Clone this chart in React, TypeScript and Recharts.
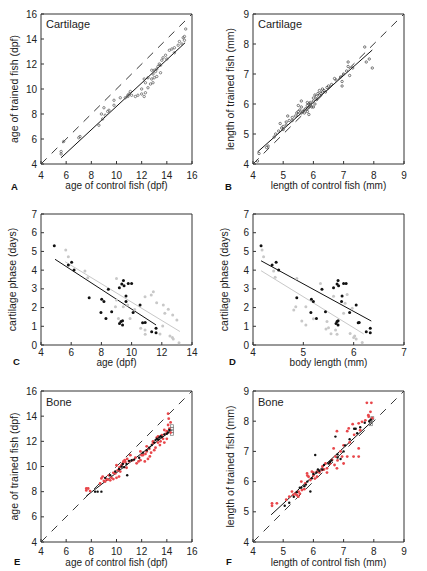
import React from "react";
import { ScatterChart, Scatter, XAxis, YAxis, ReferenceLine } from "recharts";

type Pt = [number, number];

const FONT = '"Liberation Sans", Arial, Helvetica, sans-serif';

// tick labels
const ageTicks = [4, 6, 8, 10, 12, 14, 16];
const lenTicks = [4, 5, 6, 7, 8, 9];
const phaseTicks = [0, 1, 2, 3, 4, 5, 6, 7];
const phaseAgeTicks = [4, 6, 8, 10, 12, 14];
const bodyTicks = [4, 5, 6, 7];

// A: cartilage, age of control vs trained
const aPoints: Pt[] = [
  [5.6, 4.8], [5.6, 5.0], [5.8, 5.8], [7.0, 6.1], [7.1, 6.2], [8.6, 7.1], [8.8, 8.0], [8.9, 7.6],
  [9.0, 8.5], [9.1, 7.9], [9.3, 8.2], [9.4, 8.3], [9.8, 9.1], [9.8, 8.7], [10.3, 9.3], [10.7, 9.3],
  [10.9, 9.4], [10.9, 9.5], [11.0, 9.6], [11.1, 9.8], [11.2, 9.5], [11.5, 9.4], [11.7, 9.5], [12.0, 9.6],
  [12.2, 9.4], [12.0, 10.0], [12.3, 9.7], [12.3, 10.5], [12.5, 10.1], [12.2, 10.8], [12.5, 10.9], [12.7, 10.4],
  [12.8, 10.8], [12.9, 10.5], [12.9, 11.2], [13.0, 10.9], [13.0, 11.5], [13.1, 11.4], [13.2, 11.6], [13.2, 11.0],
  [13.3, 11.8], [13.4, 12.0], [13.5, 11.9], [13.5, 11.3], [13.6, 12.3], [13.7, 12.5], [13.9, 12.7], [14.0, 12.4],
  [14.2, 13.1], [14.4, 13.2], [14.6, 13.3], [14.6, 12.9], [14.9, 13.5], [15.0, 13.8], [15.2, 13.6], [15.3, 14.1],
  [15.4, 13.9], [15.4, 14.2], [15.5, 14.8], [12.8, 11.5],
];
const aFit: Pt[] = [[5.6, 4.5], [15.45, 13.7]];

// B: cartilage, length of control vs trained
const bPoints: Pt[] = [
  [4.15, 4.1], [4.2, 4.35], [4.45, 4.55], [4.5, 4.6], [4.7, 4.9], [4.75, 5.0], [4.85, 5.1], [4.9, 5.35],
  [4.95, 5.2], [5.0, 5.15], [5.0, 5.25], [5.1, 5.4], [5.15, 5.6], [5.1, 5.3], [5.2, 5.45], [5.3, 5.45],
  [5.3, 5.55], [5.4, 5.6], [5.45, 5.7], [5.5, 5.75], [5.5, 5.65], [5.5, 5.95], [5.55, 5.8], [5.6, 5.7],
  [5.6, 5.9], [5.6, 6.1], [5.65, 5.75], [5.7, 5.8], [5.7, 5.7], [5.75, 5.85], [5.8, 5.95], [5.8, 5.75],
  [5.8, 6.05], [5.85, 5.9], [5.85, 5.65], [5.85, 6.0], [5.9, 6.0], [5.9, 6.05], [5.95, 5.9], [6.0, 6.1],
  [6.0, 6.2], [6.0, 5.9], [6.05, 6.0], [6.05, 6.3], [6.1, 6.25], [6.1, 6.15], [6.15, 6.35], [6.2, 6.3],
  [6.2, 6.45], [6.25, 6.35], [6.3, 6.4], [6.3, 6.5], [6.35, 6.45], [6.4, 6.4], [6.45, 6.55], [6.5, 6.6],
  [6.6, 6.65], [6.7, 6.85], [6.75, 6.8], [6.95, 6.6], [6.95, 6.75], [6.9, 6.9], [7.0, 7.0], [7.1, 7.1],
  [7.15, 7.25], [7.15, 7.4], [7.2, 6.95], [7.3, 7.2], [7.7, 7.9], [7.75, 7.4], [7.85, 7.5], [7.95, 7.2],
];
const bFit: Pt[] = [[4.15, 4.4], [7.95, 7.8]];

// C: cartilage phase vs age (black = one group, grey = other)
const cBlack: Pt[] = [
  [4.88, 5.31], [5.81, 4.28], [6.03, 4.42], [6.19, 4.01], [7.19, 2.53], [8.02, 2.44], [8.17, 2.32], [7.97, 1.73],
  [8.3, 1.42], [8.68, 1.78], [8.46, 2.98], [9.19, 3.06], [9.46, 3.44], [9.35, 3.26], [9.5, 3.17], [9.78, 3.29],
  [10.0, 3.29], [9.63, 2.62], [9.63, 2.32], [9.3, 1.25], [9.4, 1.07], [9.4, 1.3], [9.2, 1.15], [10.1, 1.73],
  [10.56, 2.14], [10.73, 1.19], [10.9, 1.2], [11.33, 0.71], [11.62, 0.89], [11.62, 0.66],
];
const cGrey: Pt[] = [
  [5.64, 5.08], [5.81, 4.72], [6.91, 3.96], [7.1, 3.6], [9.0, 3.56], [9.0, 2.4], [8.93, 2.05], [9.13, 1.42],
  [9.9, 1.42], [9.74, 2.14], [9.45, 2.05], [10.2, 1.9], [10.89, 2.58], [11.44, 2.85], [11.3, 2.67], [11.66, 2.26],
  [12.1, 2.14], [12.2, 1.69], [12.43, 1.91], [12.72, 1.6], [13.0, 1.34], [12.06, 1.02], [11.88, 0.59], [12.54, 0.48],
  [12.76, 0.32], [12.7, 0.4], [13.14, 0.12], [10.89, 0.8], [10.9, 0.57], [10.6, 0.9],
];
const cFitBlack: Pt[] = [[4.93, 4.58], [11.62, 1.07]];
const cFitGrey: Pt[] = [[5.6, 4.45], [13.2, 0.72]];

// D: cartilage phase vs body length
const dBlack: Pt[] = [
  [4.16, 5.31], [4.38, 4.28], [4.46, 4.42], [4.51, 4.01], [4.87, 2.53], [5.16, 2.44], [5.2, 2.32], [5.15, 1.73],
  [5.26, 1.42], [5.44, 1.78], [5.37, 2.98], [5.6, 3.06], [5.69, 3.44], [5.67, 3.26], [5.7, 3.17], [5.8, 3.29],
  [5.85, 3.29], [5.77, 2.62], [5.76, 2.32], [5.67, 1.25], [5.69, 1.07], [5.69, 1.3], [5.65, 1.15], [5.92, 1.73],
  [6.05, 2.14], [6.09, 1.19], [6.11, 1.2], [6.25, 0.71], [6.33, 0.89], [6.33, 0.66],
];
const dGrey: Pt[] = [
  [4.18, 5.08], [4.21, 4.72], [4.41, 3.96], [4.44, 3.62], [4.87, 3.56], [4.81, 1.87], [4.85, 2.05], [5.05, 2.05],
  [4.97, 1.28], [5.05, 1.07], [5.34, 3.29], [5.6, 2.6], [5.5, 0.92], [5.64, 0.8], [5.67, 0.57], [5.87, 2.7],
  [5.83, 2.23], [5.97, 1.96], [5.93, 0.62], [6.02, 0.48], [6.05, 0.32], [6.0, 0.4], [6.17, 0.14], [5.47, 1.25],
  [5.8, 1.7], [5.55, 0.6], [5.2, 1.4], [5.45, 0.85],
];
const dFitBlack: Pt[] = [[4.16, 4.5], [6.35, 1.28]];
const dFitGrey: Pt[] = [[4.16, 3.97], [6.2, 0.59]];

// E: bone, age of control vs trained
const eRed: Pt[] = [
  [7.6, 8.25], [7.75, 8.25], [7.6, 8.1], [7.9, 8.05], [8.7, 8.65], [8.8, 9.05], [8.9, 9.2], [9.0, 8.85],
  [9.1, 8.8], [9.2, 9.0], [9.3, 8.95], [9.4, 9.3], [9.5, 8.9], [9.6, 9.1], [9.75, 9.0], [9.75, 9.5],
  [9.9, 9.45], [10.0, 9.1], [10.0, 10.1], [10.1, 9.7], [10.2, 9.2], [10.25, 9.95], [10.3, 9.6], [10.4, 10.1],
  [10.5, 10.25], [10.55, 10.4], [10.65, 10.5], [10.7, 10.35], [10.8, 9.9], [10.85, 10.6], [11.0, 10.4], [11.1, 10.9],
  [11.3, 10.5], [11.5, 10.7], [11.6, 10.25], [11.75, 10.4], [11.9, 10.5], [11.9, 11.2], [12.0, 10.9], [12.1, 10.9],
  [12.25, 10.4], [12.3, 11.0], [12.4, 11.2], [12.4, 11.6], [12.5, 10.6], [12.6, 11.4], [12.65, 10.8], [12.75, 11.1],
  [12.9, 11.85], [12.9, 12.0], [13.0, 11.3], [13.1, 11.5], [13.2, 12.3], [13.3, 12.4], [13.3, 11.9], [13.45, 11.7],
  [13.5, 12.0], [13.6, 12.5], [13.7, 12.2], [13.8, 11.9], [13.8, 12.9], [13.9, 12.6], [14.0, 12.2], [14.0, 12.8],
  [14.1, 13.3], [14.15, 13.8], [14.1, 14.2], [14.2, 13.0], [14.3, 12.7], [14.3, 13.5],
];
const eBlack: Pt[] = [
  [8.3, 8.0], [8.5, 8.0], [8.8, 8.0], [9.1, 9.1], [9.5, 9.3], [9.9, 9.6], [10.2, 9.8], [10.4, 10.0],
  [10.5, 10.2], [10.6, 9.95], [10.8, 10.2], [10.85, 9.3], [11.0, 10.45], [11.2, 10.5], [11.4, 10.55], [11.8, 10.7],
  [12.1, 11.1], [12.4, 11.3], [12.6, 11.5], [12.8, 11.7], [13.0, 11.9], [13.1, 12.1], [13.2, 12.2], [13.3, 12.15],
  [13.4, 12.3], [13.5, 12.4], [13.6, 12.35], [13.8, 12.55], [14.0, 12.6], [14.1, 12.7], [14.2, 12.9],
];
const eBoxes: Pt[] = [[14.4, 12.6], [14.4, 12.8], [14.4, 13.0], [14.4, 13.2]];
const eFit: Pt[] = [[7.6, 7.65], [14.4, 12.9]];

// F: bone, length of control vs trained
const fRed: Pt[] = [
  [4.63, 5.28], [4.79, 5.28], [4.63, 5.2], [5.1, 5.4], [5.2, 5.5], [5.29, 5.67], [5.33, 5.56], [5.4, 5.6],
  [5.45, 5.55], [5.5, 5.5], [5.51, 5.67], [5.55, 5.6], [5.62, 5.72], [5.6, 6.0], [5.7, 5.75], [5.73, 5.94],
  [5.8, 6.2], [5.84, 6.16], [5.79, 6.27], [5.9, 6.05], [5.95, 6.33], [6.0, 6.2], [6.0, 6.3], [6.05, 6.1],
  [6.12, 6.33], [6.12, 6.16], [6.2, 6.3], [6.28, 6.38], [6.3, 6.5], [6.35, 6.4], [6.4, 6.6], [6.45, 6.44],
  [6.45, 6.3], [6.55, 6.6], [6.62, 6.72], [6.7, 6.55], [6.73, 6.83], [6.78, 6.44], [6.8, 6.7], [6.9, 7.0],
  [6.95, 6.83], [7.0, 6.6], [7.0, 7.2], [7.12, 6.83], [7.2, 7.3], [7.33, 6.83], [7.5, 6.83], [7.5, 7.1],
  [6.67, 7.1], [6.78, 7.67], [7.12, 7.67], [7.17, 7.76], [7.3, 7.9], [7.35, 7.55], [7.5, 7.93], [7.55, 7.7],
  [7.61, 7.98], [7.72, 8.03], [7.83, 8.15], [7.89, 8.31], [7.82, 8.2], [7.77, 8.61], [7.92, 8.61], [7.95, 8.1],
];
const fBlack: Pt[] = [
  [5.05, 5.2], [5.2, 5.3], [5.35, 5.5], [5.45, 5.65], [5.55, 5.8], [5.6, 5.8], [5.7, 5.85], [5.75, 5.9],
  [5.8, 6.0], [5.9, 5.67], [5.95, 6.11], [6.0, 6.25], [6.06, 6.88], [6.1, 6.3], [6.15, 6.4], [6.2, 6.35],
  [6.3, 6.4], [6.35, 6.55], [6.5, 6.6], [6.55, 6.65], [6.6, 6.7], [6.73, 7.49], [6.8, 6.8], [6.8, 6.9],
  [6.9, 6.75], [7.0, 7.0], [7.05, 7.2], [7.2, 7.4], [7.35, 7.75], [7.4, 7.75], [7.45, 7.6], [7.55, 7.8],
  [7.7, 7.95], [7.85, 8.0], [7.9, 8.05],
];
const fBoxes: Pt[] = [[7.9, 7.9], [7.9, 8.0], [7.95, 8.1]];
const fFit: Pt[] = [[4.6, 4.9], [7.95, 8.0]];

const toXY = (pts: Pt[]) => pts.map(([x, y]) => ({ x, y }));

const ring = (color: string) => (props: any) =>
  <circle cx={props.cx} cy={props.cy} r={1.2} fill="none" stroke={color} strokeWidth={0.7} />;
const dot = (color: string, r = 1.5) => (props: any) =>
  <circle cx={props.cx} cy={props.cy} r={r} fill={color} />;
const box = (props: any) =>
  <rect x={props.cx - 1.5} y={props.cy - 1.5} width={3} height={3} fill="none" stroke="#777" strokeWidth={0.7} />;

interface Series { pts: Pt[]; shape: (p: any) => React.ReactElement; }
interface Fit { seg: Pt[]; color: string; }

interface PanelProps {
  left: number; top: number; width: number; height: number;
  plot: { x: number; y: number; w: number; h: number };
  xDomain: [number, number]; yDomain: [number, number];
  xTicks: number[]; yTicks: number[];
  series: Series[]; fits: Fit[]; diag: boolean;
  tag?: string; letter: string; xTitle: string; yTitle: string;
  yTitleOff: number; titleY: number; tickGap: number;
  letterX: number; letterY: number; tagY: number;
}

const tickStyle = { fill: "#222", fontSize: 10, fontFamily: FONT };
const titleStyle = { fill: "#222", fontSize: 10, fontFamily: FONT };

const Panel = (p: PanelProps) => {
  const { plot } = p;
  const bottomH = p.height - plot.y - plot.h;
  const rightW = p.width - plot.x - plot.w;
  const cx = plot.x + plot.w / 2;
  const cy = plot.y + plot.h / 2;
  const yx = plot.x - p.yTitleOff;
  return (
    <div style={{ position: "absolute", left: p.left, top: p.top }}>
      <ScatterChart
        width={p.width}
        height={p.height}
        margin={{ top: plot.y - 1, right: rightW - 1, bottom: 0, left: 0 }}
      >
        <XAxis xAxisId="b" type="number" dataKey="x" orientation="bottom" height={bottomH}
          domain={p.xDomain} ticks={p.xTicks} interval={0} allowDataOverflow
          tickSize={-3} tickMargin={p.tickGap + 3} stroke="#333" tick={tickStyle} />
        <XAxis xAxisId="t" type="number" orientation="top" height={1}
          domain={p.xDomain} ticks={p.xTicks} interval={0} allowDataOverflow
          tickSize={-3} tick={false} stroke="#333" />
        <YAxis yAxisId="l" type="number" dataKey="y" orientation="left" width={plot.x}
          domain={p.yDomain} ticks={p.yTicks} interval={0} allowDataOverflow
          tickSize={-3} tickMargin={7} stroke="#333" tick={tickStyle} />
        <YAxis yAxisId="r" type="number" orientation="right" width={1}
          domain={p.yDomain} ticks={p.yTicks} interval={0} allowDataOverflow
          tickSize={-3} tick={false} stroke="#333" />
        {p.diag && (
          <ReferenceLine xAxisId="b" yAxisId="l"
            segment={[{ x: p.xDomain[0], y: p.yDomain[0] }, { x: p.xDomain[1], y: p.yDomain[1] }]}
            stroke="#222" strokeWidth={0.9} strokeDasharray="8 7" />
        )}
        {p.series.map((s, i) => (
          <Scatter key={i} xAxisId="b" yAxisId="l" data={toXY(s.pts)} shape={s.shape}
            isAnimationActive={false} />
        ))}
        {p.fits.map((f, i) => (
          <ReferenceLine key={"f" + i} xAxisId="b" yAxisId="l"
            segment={[{ x: f.seg[0][0], y: f.seg[0][1] }, { x: f.seg[1][0], y: f.seg[1][1] }]}
            stroke={f.color} strokeWidth={1} />
        ))}
        {p.tag && (
          <text x={plot.x + 5} y={p.tagY} fill="#222" fontSize={11} fontFamily={FONT}>{p.tag}</text>
        )}
        <text x={cx} y={p.titleY} textAnchor="middle" {...titleStyle}>{p.xTitle}</text>
        <text x={yx} y={cy} textAnchor="middle" transform={`rotate(-90 ${yx} ${cy})`}
          {...titleStyle} fontSize={10.5}>
          {p.yTitle}
        </text>
        <text x={p.letterX} y={p.letterY} fontSize={9.5} fontWeight="bold" fontFamily={FONT} fill="#111">
          {p.letter}
        </text>
      </ScatterChart>
    </div>
  );
};

export default function App() {
  const L = { left: 0, width: 213 };
  const R = { left: 213, width: 214 };
  const row1 = { top: 0, height: 196 };
  const row2 = { top: 196, height: 178 };
  const row3 = { top: 374, height: 197 };
  return (
    <div style={{ position: "absolute", left: 0, top: 0, width: 427, height: 571, background: "#fff" }}>
      <Panel {...L} {...row1} plot={{ x: 41, y: 14, w: 151, h: 150 }}
        xDomain={[4, 16]} yDomain={[4, 16]} xTicks={ageTicks} yTicks={ageTicks}
        series={[{ pts: aPoints, shape: ring("#555") }]}
        fits={[{ seg: aFit, color: "#111" }]} diag
        tag="Cartilage" letter="A" xTitle="age of control fish (dpf)" yTitle="age of trained fish (dpf)"
        yTitleOff={23} titleY={189} tickGap={8} letterX={11} letterY={190} tagY={28} />
      <Panel {...R} {...row1} plot={{ x: 40, y: 14, w: 151, h: 150 }}
        xDomain={[4, 9]} yDomain={[4, 9]} xTicks={lenTicks} yTicks={lenTicks}
        series={[{ pts: bPoints, shape: ring("#444") }]}
        fits={[{ seg: bFit, color: "#111" }]} diag
        tag="Cartilage" letter="B" xTitle="length of control fish (mm)" yTitle="length of trained fish (mm)"
        yTitleOff={19} titleY={189} tickGap={8} letterX={12} letterY={190} tagY={28} />
      <Panel {...L} {...row2} plot={{ x: 41, y: 18, w: 151, h: 131 }}
        xDomain={[4, 14]} yDomain={[0, 7]} xTicks={phaseAgeTicks} yTicks={phaseTicks}
        series={[{ pts: cGrey, shape: dot("#c8c8c8") }, { pts: cBlack, shape: dot("#111") }]}
        fits={[{ seg: cFitGrey, color: "#c8c8c8" }, { seg: cFitBlack, color: "#111" }]} diag={false}
        letter="C" xTitle="age (dpf)" yTitle="cartilage phase (days)"
        yTitleOff={25} titleY={170} tickGap={4} letterX={13} letterY={169} tagY={0} />
      <Panel {...R} {...row2} plot={{ x: 40, y: 18, w: 151, h: 131 }}
        xDomain={[4, 7]} yDomain={[0, 7]} xTicks={bodyTicks} yTicks={phaseTicks}
        series={[{ pts: dGrey, shape: dot("#c8c8c8") }, { pts: dBlack, shape: dot("#111") }]}
        fits={[{ seg: dFitGrey, color: "#c8c8c8" }, { seg: dFitBlack, color: "#111" }]} diag={false}
        letter="D" xTitle="body length (mm)" yTitle="cartilage phase (days)"
        yTitleOff={25} titleY={170} tickGap={4} letterX={16} letterY={169} tagY={0} />
      <Panel {...L} {...row3} plot={{ x: 41, y: 17, w: 151, h: 151 }}
        xDomain={[4, 16]} yDomain={[4, 16]} xTicks={ageTicks} yTicks={ageTicks}
        series={[{ pts: eBoxes, shape: box }, { pts: eRed, shape: dot("#e8474b", 1.4) }, { pts: eBlack, shape: dot("#111", 1.2) }]}
        fits={[{ seg: eFit, color: "#111" }]} diag
        tag="Bone" letter="E" xTitle="age of control fish (dpf)" yTitle="age of trained fish (dpf)"
        yTitleOff={23} titleY={192} tickGap={6} letterX={14} letterY={191} tagY={32} />
      <Panel {...R} {...row3} plot={{ x: 40, y: 17, w: 151, h: 151 }}
        xDomain={[4, 9]} yDomain={[4, 9]} xTicks={lenTicks} yTicks={lenTicks}
        series={[{ pts: fBoxes, shape: box }, { pts: fRed, shape: dot("#e8474b", 1.4) }, { pts: fBlack, shape: dot("#111", 1.2) }]}
        fits={[{ seg: fFit, color: "#111" }]} diag
        tag="Bone" letter="F" xTitle="length of control fish (mm)" yTitle="length of trained fish (mm)"
        yTitleOff={19} titleY={192} tickGap={6} letterX={13} letterY={191} tagY={32} />
    </div>
  );
}
